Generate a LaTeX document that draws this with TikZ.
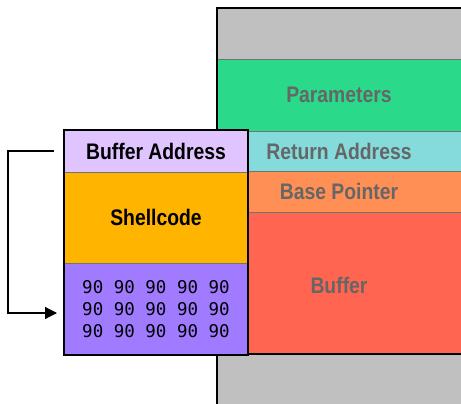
\documentclass[tikz,border=0pt]{standalone}
\usepackage{fontspec}
\usepackage{tikz}
\usetikzlibrary{arrows.meta}
\setmainfont{Liberation Sans}[FakeStretch=0.86]
\setmonofont{DejaVu Sans Mono}
\definecolor{stackgray}{HTML}{C0C0C0}
\definecolor{paramgreen}{HTML}{2AD98A}
\definecolor{retcyan}{HTML}{85DBDC}
\definecolor{baseorange}{HTML}{FF8F55}
\definecolor{bufred}{HTML}{FF6550}
\definecolor{addrlav}{HTML}{E0C4FF}
\definecolor{shellamber}{HTML}{FFB400}
\definecolor{noppurple}{HTML}{A07BFF}
\definecolor{stacktext}{HTML}{666666}
\tikzset{
  seg/.style={draw=black!55, line width=1pt, outer sep=0pt, inner sep=0pt,
    font=\fontsize{22.5}{26}\selectfont\bfseries, text=stacktext},
  cell/.style={seg, text=black}
}
\begin{document}
\begin{tikzpicture}[x=1pt, y=-1pt]
\useasboundingbox (0,0) rectangle (461,404);
% the stack
\fill [stackgray] (217,8) rectangle (470,410);
\node [seg, fill=paramgreen, minimum width=250, minimum height=71, anchor=north west] (params) at (217,60) {};
\node [seg, fill=retcyan, minimum width=250, minimum height=40, anchor=north west] (ret) at (217,131) {};
\node [seg, fill=baseorange, minimum width=250, minimum height=41, anchor=north west] (base) at (217,171) {};
\node [seg, fill=bufred, minimum width=250, minimum height=142, anchor=north west] (buf) at (217,212) {};
\draw [line width=2pt] (217,410) -- (217,8) -- (470,8);
\draw [line width=2pt] (217,354) -- (470,354);
\node [seg, draw=none, fill=none] (paramstext) at (339,95) {Parameters};
\node [seg, draw=none, fill=none] (rettext) at (339,151) {Return Address};
\node [seg, draw=none, fill=none] (basetext) at (339,191) {Base Pointer};
\node [seg, draw=none, fill=none] (buftext) at (339,285) {Buffer};
% the payload
\node [cell, fill=addrlav, minimum width=184, minimum height=42] (addr) at (156,151) {Buffer Address};
\node [cell, fill=shellamber, minimum width=184, minimum height=91] (shell) at (156,217.5) {Shellcode};
\node [cell, fill=noppurple, minimum width=184, minimum height=92, align=center,
  font=\fontsize{17.5}{22}\ttfamily] (nops) at (156,309) {90 90 90 90 90\\90 90 90 90 90\\90 90 90 90 90};
\draw [line width=2pt] (addr.north west) rectangle (nops.south east);
\draw [line width=1.2pt, -{Triangle[length=12pt, width=12pt]}] ([xshift=-10pt]addr.west) -- ++(-46,0) |- ([xshift=-7pt, yshift=-4pt]nops.west);
\end{tikzpicture}
\end{document}
